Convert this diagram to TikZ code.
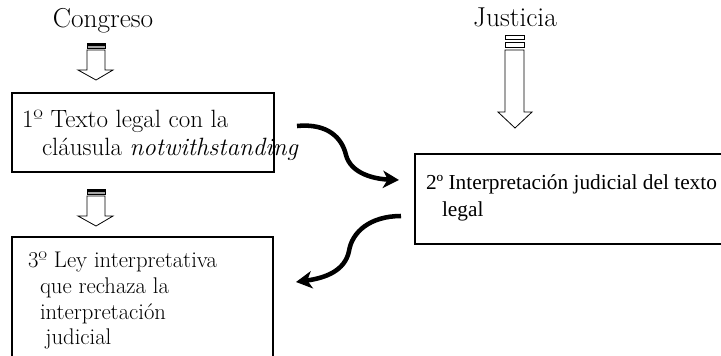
\documentclass[tikz,border=0pt]{standalone}
\usepackage{fontspec}
\newfontfamily\timesfont{Liberation Serif}
\usetikzlibrary{arrows.meta}

\begin{document}
\begin{tikzpicture}[x=0.75pt,y=-0.75pt]
        \tikzstyle{every node}=[inner sep=0pt,outer sep=0pt]
        \tikzstyle{caja}=[line width=0.8pt]
        \tikzstyle{flecha}=[draw,fill=white,line width=0.6pt,line join=miter]
        \tikzstyle{franja}=[draw,line width=0.6pt]
        \tikzstyle{curva}=[line width=3.4pt,-{Stealth[length=12pt,width=13pt,inset=3.5pt]}]
        \useasboundingbox (0,0) rectangle (721,355);
        % titulos
        \node[anchor=base,font=\fontsize{20.5}{24}\selectfont] (congreso) at (103,27) {Congreso};
        \node[anchor=base,font=\fontsize{20.5}{24}\selectfont] (justicia) at (515,26) {Justicia};
        % flechas de bloque
        \fill (87,43) rectangle (105,45.5);
        \fill[gray!70] (87,45.5) rectangle (105,47.5);
        \draw[franja] (87,43) rectangle (105,48.5);
        \draw[flecha] (87,50) -- (105,50) -- (105,70) -- (113,70) -- (96,80) -- (78,70) -- (87,70) -- cycle;
        \draw[franja] (505,35) rectangle (524,39.5);
        \draw[franja] (505,42) rectangle (524,47);
        \draw[flecha] (505,50) -- (524,50) -- (524,112) -- (532,112) -- (515,128) -- (498,112) -- (505,112) -- cycle;
        \fill (87,189) rectangle (105,191.5);
        \fill[gray!70] (87,191.5) rectangle (105,193.5);
        \draw[franja] (87,189) rectangle (105,194.5);
        \draw[flecha] (87,196) -- (105,196) -- (105,216) -- (113,216) -- (96,226) -- (78,216) -- (87,216) -- cycle;
        % cajas
        \draw[caja] (12,93) rectangle (274,172);
        \draw[caja] (415,154) rectangle (740,244);
        \draw[caja] (12,237) rectangle (273,370);
        \node[anchor=north west,align=left,font=\fontsize{18.75}{21}\selectfont] (paso1) at (22,110)
          {1º Texto legal con la\\\hspace*{15pt}cláusula \textit{notwithstanding}};
        \node[anchor=north west,align=left,font=\timesfont\fontsize{16}{20.25}\selectfont] (paso2) at (426,175)
          {2º Interpretación judicial del texto\\\hspace*{12pt}legal};
        \node[anchor=north west,align=left,font=\fontsize{17}{19.2}\selectfont] (paso3) at (28,252)
          {3º Ley interpretativa\\\hspace*{9pt}que rechaza la\\\hspace*{9pt}interpretación\\\hspace*{13pt}judicial};
        % conectores
        \coordinate (ida) at (297,126);
        \coordinate (llegada) at (399,180);
        \coordinate (vuelta) at (401,216);
        \coordinate (regreso) at (296,282);
        \draw[curva] (ida) .. controls (328,123) and (342,138) .. (346,155) .. controls (351,174) and (375,179) .. (llegada);
        \draw[curva] (vuelta) .. controls (370,216) and (352,232) .. (349,251) .. controls (345,271) and (325,278) .. (regreso);
\end{tikzpicture}
\end{document}
